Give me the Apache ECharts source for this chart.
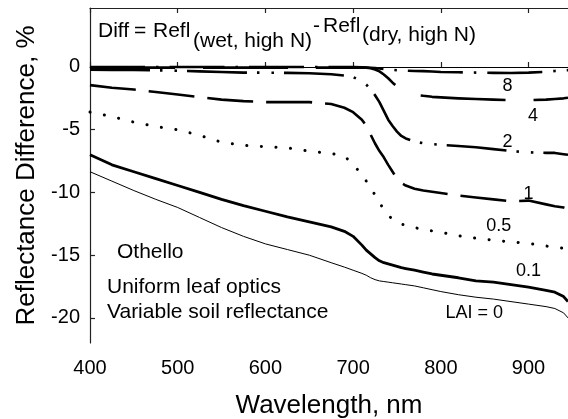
<!DOCTYPE html>
<html>
<head>
<meta charset="utf-8">
<script src="https://cdn.jsdelivr.net/npm/echarts@6/dist/echarts.min.js"></script>
<style>
  html, body { margin: 0; padding: 0; background: #fff; }
  #chart { width: 568px; height: 419px; }
</style>
</head>
<body>
<div id="chart"></div>
<script>
// Wavelength samples (nm), shared by every curve
const wavelengths = [400, 425, 450, 475, 500, 525, 550, 575, 600, 625, 650, 675, 690, 700,
  710, 715, 720, 725, 730, 735, 740, 745, 750, 755, 760, 770, 780, 790, 800,
  820, 840, 860, 880, 900, 920, 930, 940, 945];

// Reflectance difference (%) for each leaf area index
const lai8 = [0, 0, 0, 0, 0, 0, 0, 0, 0, 0, 0, 0, 0, 0,
  -0.02, -0.04, -0.06, -0.09, -0.12, -0.16, -0.2, -0.23, -0.26, -0.28, -0.3, -0.32, -0.33, -0.36, -0.4,
  -0.42, -0.45, -0.47, -0.48, -0.45, -0.38, -0.32, -0.27, -0.25];
const lai4 = [-0.05, -0.05, -0.05, -0.05, -0.05, -0.05, -0.05, -0.05, -0.05, -0.05, -0.05, -0.05, -0.05, -0.05,
  -0.05, -0.05, -0.1, -0.2, -0.35, -0.6, -0.9, -1.25, -1.55, -1.8, -2.0, -2.2, -2.3, -2.38, -2.42,
  -2.5, -2.55, -2.6, -2.65, -2.65, -2.6, -2.55, -2.5, -2.45];
const lai2 = [-0.22, -0.23, -0.24, -0.26, -0.3, -0.35, -0.4, -0.45, -0.45, -0.47, -0.5, -0.58, -0.68, -0.8,
  -1.15, -1.4, -1.8, -2.25, -2.8, -3.5, -4.2, -4.7, -5.15, -5.5, -5.7, -5.95, -6.08, -6.15, -6.2,
  -6.3, -6.4, -6.55, -6.7, -6.8, -6.85, -6.85, -6.95, -7.0];
const lai1 = [-1.45, -1.65, -1.8, -2.0, -2.2, -2.4, -2.6, -2.72, -2.8, -2.8, -2.8, -2.95, -3.25, -3.6,
  -4.2, -4.7, -5.4, -6.1, -6.7, -7.2, -7.8, -8.35, -8.9, -9.25, -9.45, -9.7, -9.85, -9.95, -10.05,
  -10.25, -10.4, -10.55, -10.7, -10.65, -10.95, -11.1, -11.2, -11.3];
const lai05 = [-3.6, -3.95, -4.4, -4.75, -5.0, -5.45, -6.0, -6.25, -6.35, -6.45, -6.7, -6.9, -7.1, -7.75,
  -8.6, -9.1, -9.65, -10.2, -10.8, -11.35, -11.8, -12.15, -12.35, -12.5, -12.65, -12.8, -12.95, -13.07, -13.18,
  -13.45, -13.65, -13.8, -13.95, -14.05, -14.27, -14.35, -14.45, -14.5];
const lai01 = [-7.0, -7.8, -8.35, -8.9, -9.45, -10.0, -10.55, -11.05, -11.5, -11.95, -12.35, -12.75, -13.1, -13.5,
  -14.2, -14.6, -14.9, -15.2, -15.45, -15.6, -15.7, -15.8, -15.9, -16.0, -16.07, -16.2, -16.35, -16.5, -16.6,
  -16.8, -17.05, -17.15, -17.35, -17.55, -17.8, -17.95, -18.3, -18.7];
const lai0 = [-8.35, -9.1, -9.85, -10.55, -11.2, -12.0, -12.8, -13.5, -14.1, -14.55, -15.0, -15.6, -15.95, -16.2,
  -16.45, -16.6, -16.8, -16.95, -17.05, -17.1, -17.15, -17.2, -17.25, -17.3, -17.35, -17.45, -17.6, -17.75, -17.9,
  -18.15, -18.35, -18.5, -18.7, -18.9, -19.1, -19.25, -19.6, -20.0];

// Axis ticks
const xTicks = [400, 500, 600, 700, 800, 900];
const yTicks = [0, -5, -10, -15, -20];

// Curve labels, anchored in data units (wavelength, difference)
const curveLabelText = ['8', '4', '2', '1', '0.5', '0.1', 'LAI = 0'];
const curveLabelWl = [876, 905, 876, 900, 866, 900, 838];
const curveLabelVal = [-1.55, -3.95, -5.95, -10.1, -12.7, -16.3, -19.65];

const FONT = "'Liberation Sans', Arial, Helvetica, sans-serif";
const chart = echarts.init(document.getElementById('chart'), null, { renderer: 'canvas' });

function curve(name, values, width, type, cap) {
  return {
    type: 'line',
    name: name,
    data: wavelengths.map((w, i) => [w, values[i]]),
    symbol: 'none',
    showSymbol: false,
    silent: true,
    clip: true,
    lineStyle: { color: '#000', width: width, type: type, cap: cap || 'butt', join: 'round' },
    animation: false
  };
}

const zeroSeries = curve('LAI 8', lai8, 2.6, [55, 11, 2.5, 11]);
zeroSeries.markLine = {
  silent: true,
  symbol: 'none',
  animation: false,
  label: { show: false },
  lineStyle: { color: '#000', width: 1, type: 'solid' },
  data: [{ yAxis: 0 }]
};

const axisLineStyle = { color: '#222', width: 1.2 };

chart.setOption({
  backgroundColor: '#fff',
  animation: false,
  grid: { left: 90, right: 0, top: 8, bottom: 76, outerBoundsMode: 'none', containLabel: false },
  xAxis: [{
    type: 'value', min: 400, max: 945, position: 'bottom',
    name: 'Wavelength, nm', nameLocation: 'middle', nameGap: 50,
    nameTextStyle: { fontFamily: FONT, fontSize: 26, color: '#000' },
    axisLine: { show: true, lineStyle: axisLineStyle },
    axisTick: { show: true, inside: true, length: 5, customValues: xTicks, lineStyle: axisLineStyle },
    axisLabel: { show: true, customValues: xTicks, margin: 15, fontFamily: FONT, fontSize: 20, color: '#000' },
    splitLine: { show: false }
  }, {
    type: 'value', min: 400, max: 945, position: 'top',
    axisLine: { show: true, onZero: false, lineStyle: axisLineStyle },
    axisTick: { show: true, inside: true, length: 5, customValues: xTicks, lineStyle: axisLineStyle },
    axisLabel: { show: false },
    splitLine: { show: false }
  }],
  yAxis: [{
    type: 'value', min: -22, max: 4.7,
    name: 'Reflectance Difference, %', nameLocation: 'middle', nameGap: 50, nameRotate: 90,
    nameTextStyle: { fontFamily: FONT, fontSize: 26, color: '#000' },
    axisLine: { show: true, onZero: false, lineStyle: axisLineStyle },
    axisTick: { show: true, inside: true, length: 5, customValues: yTicks, lineStyle: axisLineStyle },
    axisLabel: { show: true, customValues: yTicks, margin: 10, fontFamily: FONT, fontSize: 20, color: '#000' },
    splitLine: { show: false }
  }],
  series: [
    zeroSeries,
    curve('LAI 4', lai4, 2.6, [85, 28]),
    curve('LAI 2', lai2, 2.6, [60, 10, 2.5, 12, 2.5, 10]),
    curve('LAI 1', lai1, 2.6, [46, 13]),
    curve('LAI 0.5', lai05, 3, [0.1, 14.5], 'round'),
    curve('LAI 0.1', lai01, 2.8, 'solid'),
    curve('LAI 0', lai0, 1, 'solid')
  ]
});

// Text drawn on top of the plot: formula, site and method notes, curve labels
function txt(str, x, y, size) {
  return {
    type: 'text', x: x, y: y, silent: true, z: 100,
    style: { text: str, font: size + 'px ' + FONT, fill: '#000',
      align: 'left', verticalAlign: 'middle', textAlign: 'left', textVerticalAlign: 'middle' }
  };
}

const graphics = [
  txt('Diff', 98, 31, 21),
  txt('=', 134, 31, 21),
  txt('Refl', 153, 31, 21),
  txt('(wet, high N)', 193, 41, 21),
  txt('-', 313, 26, 21),
  txt('Refl', 323, 26.5, 21),
  txt('(dry, high N)', 362, 35.5, 21),
  txt('Othello', 117, 252.5, 21),
  txt('Uniform leaf optics', 107, 287.5, 21),
  txt('Variable soil reflectance', 107, 312.5, 21)
];

curveLabelText.forEach((t, i) => {
  const p = chart.convertToPixel({ gridIndex: 0 }, [curveLabelWl[i], curveLabelVal[i]]);
  const g = txt(t, p[0], p[1], 18);
  g.style.align = 'center';
  g.style.textAlign = 'center';
  graphics.push(g);
});

chart.setOption({ graphic: graphics });
</script>
</body>
</html>
